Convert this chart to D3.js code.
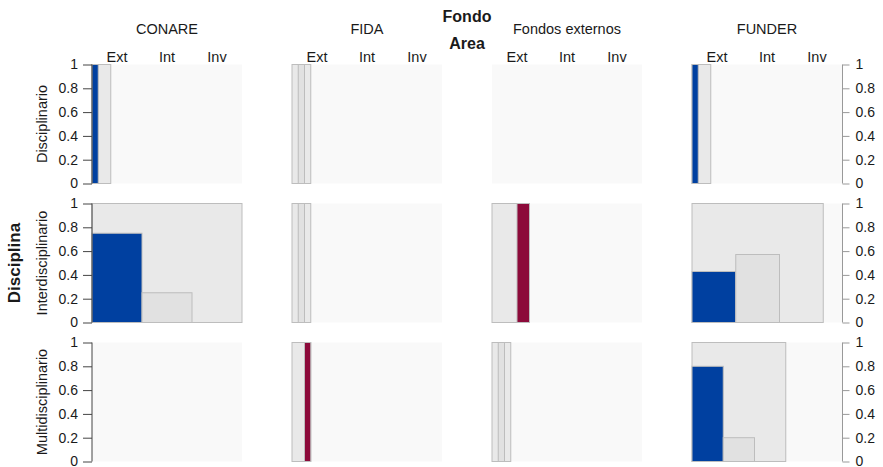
<!DOCTYPE html>
<html>
<head>
<meta charset="utf-8">
<script src="https://cdn.jsdelivr.net/npm/d3@7"></script>
<style>
  body { margin: 0; background: #fff; }
  text { font-family: "Liberation Sans", Arial, sans-serif; fill: #1a1a1a; }
</style>
</head>
<body>
<div id="chart"></div>
<script>
// mosaic / spine panels: Fondo (columns) x Disciplina (rows), bars by Area

var fondos = ["CONARE", "FIDA", "Fondos externos", "FUNDER"];
var disciplinas = ["Disciplinario", "Interdisciplinario", "Multidisciplinario"];
var areas = ["Ext", "Int", "Inv"];
var yTicks = [0, 0.2, 0.4, 0.6, 0.8, 1];

// counts per area (Ext, Int, Inv), one array per fondo, per disciplina row
var disciplinario      = [[1, 0, 0], [0, 1, 0], [0, 0, 0], [1, 0, 0]];
var interdisciplinario = [[6, 2, 0], [0, 1, 0], [0, 0, 2], [3, 4, 0]];
var multidisciplinario = [[0, 0, 0], [0, 0, 1], [0, 1, 0], [4, 1, 0]];

var areaColors = ["#0040A0", "#E1E1E1", "#8C0A3A"];

var svgWidth = 883;
var svgHeight = 467;

var panel = { left: 92, top: 64.5, width: 150, height: 119, stepX: 200, stepY: 139 };

var svg = d3.select("#chart")
  .append("svg")
  .attr("width", svgWidth)
  .attr("height", svgHeight);

var rows = [disciplinario, interdisciplinario, multidisciplinario];

// build cell table from the arrays
var cells = [];
rows.forEach(function(row, r) {
  row.forEach(function(counts, c) {
    cells.push({ row: r, col: c, counts: counts, n: d3.sum(counts) });
  });
});

var maxN = d3.max(cells, d => d.n);

var colScale = d3.scaleBand().domain(fondos).range([panel.left, panel.left + panel.stepX * fondos.length]);
var rowScale = d3.scaleBand().domain(disciplinas).range([panel.top, panel.top + panel.stepY * disciplinas.length]);

// width of a cell's outer rectangle is proportional to its count
var nScale = d3.scaleLinear().domain([0, maxN]).range([0, panel.width]);
var yScale = d3.scaleLinear().domain([0, 1]).range([panel.height, 0]);
var labelBand = d3.scaleBand().domain(areas).range([0, panel.width]);

cells.forEach(function(cell) {
  var g = svg.append("g")
    .attr("transform", `translate(${colScale(fondos[cell.col])}, ${rowScale(disciplinas[cell.row])})`);

  //panel background
  g.append("rect")
    .attr("width", panel.width)
    .attr("height", panel.height)
    .attr("fill", "#F9F9F9");

  var w = nScale(cell.n);

  //outer rect for the cell
  g.append("rect")
    .attr("width", w)
    .attr("height", panel.height)
    .attr("fill", "#E9E9E9")
    .attr("stroke", "#BDBDBD")
    .attr("stroke-width", 1);

  var band = d3.scaleBand().domain(areas).range([0, w]);

  g.selectAll(".bar")
    .data(cell.counts.map((v, i) => ({ area: areas[i], p: cell.n ? v / cell.n : 0, i: i })))
    .enter()
    .filter(d => d.p > 0)
    .append("rect")
    .attr("x", d => band(d.area))
    .attr("y", d => yScale(d.p))
    .attr("width", band.bandwidth())
    .attr("height", d => panel.height - yScale(d.p))
    .attr("fill", d => areaColors[d.i])
    .attr("stroke", "#BDBDBD")
    .attr("stroke-width", 1);
});

// column headers
fondos.forEach(function(f) {
  var x0 = colScale(f);
  svg.append("text")
    .attr("x", x0 + panel.width / 2)
    .attr("y", 34)
    .attr("text-anchor", "middle")
    .attr("font-size", "14.5px")
    .text(f);

  areas.forEach(function(a) {
    svg.append("text")
      .attr("x", x0 + labelBand(a) + labelBand.bandwidth() / 2)
      .attr("y", 61.5)
      .attr("text-anchor", "middle")
      .attr("font-size", "14.5px")
      .text(a);
  });
});

svg.append("text")
  .attr("x", 467).attr("y", 22)
  .attr("text-anchor", "middle")
  .attr("font-size", "16px")
  .attr("font-weight", 700)
  .text("Fondo");

svg.append("text")
  .attr("x", 467).attr("y", 48.5)
  .attr("text-anchor", "middle")
  .attr("font-size", "16px")
  .attr("font-weight", 700)
  .text("Area");

svg.append("text")
  .attr("transform", `translate(20, ${rowScale("Interdisciplinario") + panel.height / 2}) rotate(-90)`)
  .attr("text-anchor", "middle")
  .attr("font-size", "17px")
  .attr("font-weight", 700)
  .text("Disciplina");

// row labels and axes
disciplinas.forEach(function(d) {
  var y0 = rowScale(d);

  svg.append("text")
    .attr("transform", `translate(46.5, ${y0 + panel.height / 2}) rotate(-90)`)
    .attr("text-anchor", "middle")
    .attr("font-size", "14.5px")
    .text(d);

  var leftAxis = d3.axisLeft(yScale).tickValues(yTicks).tickFormat(d3.format("")).tickSize(9).tickPadding(5);
  var la = svg.append("g")
    .attr("transform", `translate(${panel.left}, ${y0})`)
    .call(leftAxis);
  la.select(".domain").attr("stroke", "#444").attr("d", `M0,${panel.height}V0`);
  la.selectAll(".tick line").attr("stroke", "#444");
  la.selectAll("text").attr("font-size", "14px").attr("fill", "#1a1a1a")
    .attr("font-family", "Liberation Sans, Arial, sans-serif");

  var rightAxis = d3.axisRight(yScale).tickValues(yTicks).tickFormat(d3.format("")).tickSize(7).tickPadding(6);
  var ra = svg.append("g")
    .attr("transform", `translate(${colScale("FUNDER") + panel.width + 0.5}, ${y0})`)
    .call(rightAxis);
  ra.select(".domain").attr("stroke", "#999").attr("d", `M0,${panel.height}V0`);
  ra.selectAll(".tick line").attr("stroke", "#999");
  ra.selectAll("text").attr("font-size", "14px").attr("fill", "#1a1a1a")
    .attr("font-family", "Liberation Sans, Arial, sans-serif");
});
</script>
</body>
</html>
